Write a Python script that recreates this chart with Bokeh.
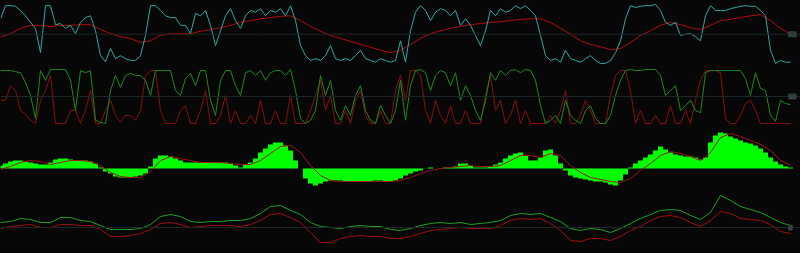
from bokeh.plotting import figure
from bokeh.layouts import column
from bokeh.models import Range1d, Span, Label
from bokeh.embed import file_html
from bokeh.resources import INLINE

# ---------------- data ----------------
# bar index (one bar every 5 px of the original chart)
bars = list(range(159))
smooth_bars = bars[::2]

# panel 1: fast oscillator (0-100) and its slow average
osc_fast = [76,98,98,97,90,81,70,60,19,98,
            98,66,68,60,65,51,70,78,81,56,
            14,4,26,9,14,9,6,6,14,48,
            98,98,90,81,78,78,65,65,51,85,
            81,90,65,31,56,81,93,73,60,81,
            90,87,93,81,90,87,93,81,98,73,
            31,14,6,9,6,14,31,9,6,9,
            6,14,23,9,6,3,9,6,3,6,
            39,3,56,87,98,90,73,87,93,90,
            81,90,65,76,65,48,31,56,90,81,
            93,87,90,98,93,98,90,81,48,14,
            6,9,3,23,9,6,3,9,14,6,
            1,1,6,19,39,76,98,95,97,98,
            98,100,90,70,65,70,48,50,51,46,
            39,81,98,90,90,90,93,95,97,98,
            97,97,90,81,23,1,6,3,3]
osc_slow = [45,51,60,65,65,63,65,65,66,66,
            58,51,46,43,36,39,48,51,51,51,
            55,58,61,65,70,73,76,78,80,81,
            73,63,55,48,43,38,33,28,23,19,
            23,33,43,51,56,60,63,66,68,70,
            71,73,75,76,76,70,60,50,39,33,
            29,24,26,36,48,56,65,70,66,61,
            58,65,73,75,78,81,83,73,60,50]

# panel 2: two 0-100 oscillators
osc2_green = [98,98,98,96,94,76,52,9,98,80,
              100,100,100,100,80,24,98,94,98,6,
              2,0,61,89,67,89,93,89,89,80,
              52,98,98,98,98,61,52,83,93,70,
              98,98,43,15,80,98,98,70,52,94,
              98,89,98,80,94,98,98,89,100,61,
              9,0,6,24,89,52,80,24,6,33,
              15,52,70,24,6,0,33,15,0,24,
              80,6,70,98,100,94,61,89,98,94,
              70,94,43,70,52,24,6,43,94,80,
              98,89,98,100,94,100,98,80,33,0,
              6,15,0,43,15,6,0,24,33,9,
              0,0,15,52,80,98,100,98,98,100,
              100,100,89,52,61,70,24,33,43,24,
              20,94,98,98,98,98,98,98,98,83,
              52,94,65,61,15,4,43,37,35]
osc2_red = [43,43,70,61,24,17,6,0,43,61,
            89,0,0,0,24,24,0,24,61,0,
            0,24,43,15,2,15,15,6,24,89,
            98,98,24,0,0,0,24,33,0,0,
            24,61,0,0,15,52,0,24,0,0,
            15,0,43,0,0,24,0,0,52,0,
            0,0,24,52,80,24,52,0,0,24,
            0,43,61,15,0,0,24,0,0,61,
            89,43,98,98,89,24,0,43,15,0,
            33,0,0,24,0,0,0,52,89,24,
            43,0,15,43,0,24,0,0,0,0,
            15,0,24,61,0,0,15,43,24,0,
            0,0,52,89,98,98,61,0,24,0,
            0,15,0,0,33,0,0,24,0,43,
            80,98,98,98,94,9,0,0,15,37,
            43,24,0,0,0,0,0,0,0]

# panel 3: histogram and signal line
hist = [3,5,7,8,8,7,6,5,4,4,
        6,9,10,10,9,8,8,8,7,5,
        1,-3,-5,-8,-9,-9,-9,-8,-7,-5,
        2,10,13,13,12,10,8,6,6,6,
        6,6,6,6,6,6,5,3,1,4,
        6,10,16,20,24,26,26,23,18,8,
        0,-10,-15,-17,-15,-13,-12,-12,-12,-13,
        -13,-13,-13,-13,-13,-12,-12,-13,-13,-12,
        -10,-7,-5,-3,-2,0,1,0,0,1,
        1,2,5,5,3,1,1,1,2,4,
        6,10,13,15,16,13,8,8,11,18,
        19,13,5,-2,-7,-9,-10,-11,-12,-13,
        -13,-14,-16,-17,-12,-6,1,5,8,11,
        14,18,22,19,16,14,13,12,12,11,
        9,11,26,33,36,35,32,30,28,26,
        25,23,20,16,11,7,4,2,1]
signal = [-1,2,6,8,7,4,6,8,8,7,
          3,-4,-8,-9,-9,-3,8,12,10,8,
          6,6,6,5,4,4,8,15,22,23,
          16,3,-7,-12,-13,-13,-13,-13,-13,-13,
          -12,-9,-5,-2,0,1,2,3,2,2,
          3,8,13,13,11,15,13,3,-4,-9,
          -11,-13,-14,-10,-2,5,13,17,15,12,
          8,16,31,35,32,28,24,18,8,3]

# panel 4: two smooth lines around zero
line4_green = [5,6,9,8,5,5,10,10,7,6,
               2,-2,-2,-2,-1,3,11,13,11,6,
               5,6,6,7,7,9,14,21,22,17,
               13,5,1,0,-1,1,2,1,1,-2,
               -3,-1,2,4,5,4,5,3,4,5,
               7,12,14,13,14,10,6,-1,-3,-1,
               -2,-5,-1,4,9,13,17,18,17,12,
               8,15,32,27,21,18,15,10,5,2]
line4_red = [-1,1,2,3,0,0,3,3,2,2,
             -2,-9,-9,-8,-6,-2,4,5,3,0,
             1,2,2,2,1,3,7,13,14,10,
             5,-5,-15,-15,-11,-9,-8,-9,-9,-11,
             -11,-9,-6,-3,-2,-1,0,-1,-1,-1,
             2,7,9,8,9,4,-3,-13,-14,-11,
             -11,-13,-9,-3,1,7,11,12,10,5,
             1,7,16,14,9,8,7,3,-4,-6]

ref_levels = [50, 50, 0]
ref_labels = ["50", "50", "0"]

# ---------------- styling ----------------
BG = "#070707"
REF = "#1d2727"
xr = Range1d(0, 160)


def panel(h, y0, y1):
    p = figure(width=800, height=h, x_range=xr, y_range=Range1d(y0, y1),
               output_backend="svg", toolbar_location=None, min_border=0)
    p.background_fill_color = BG
    p.border_fill_color = BG
    p.outline_line_color = None
    p.xaxis.visible = False
    p.yaxis.visible = False
    p.xgrid.visible = False
    p.ygrid.visible = False
    return p


def add_ref(p, level, text):
    p.add_layout(Span(location=level, dimension="width", line_color=REF, line_width=1))
    p.add_layout(Label(x=157.6, y=level, text=text, text_font_size="6px",
                       text_color="#4d5a5a", text_baseline="middle",
                       background_fill_color="#263030", border_line_color="#2e3a3a",
                       text_font="DejaVu Sans"))


p1 = panel(67, -5.88, 106.72)
add_ref(p1, ref_levels[0], ref_labels[0])
p1.line(smooth_bars, osc_slow, line_color="#b00d0d", line_width=1)
p1.line(bars, osc_fast, line_color="#2fa8a4", line_width=1)

p2 = panel(61, -9.26, 103.70)
add_ref(p2, ref_levels[1], ref_labels[1])
p2.line(bars, osc2_red, line_color="#8a0f0f", line_width=1)
p2.line(bars, osc2_green, line_color="#1d8a1d", line_width=1)

p3 = panel(63, -23, 40)
p3.vbar(x=bars, top=hist, bottom=0, width=1, fill_color="#00ff00", line_color=None)
p3.line(smooth_bars, signal, line_color="#a01414", line_width=1)

p4 = panel(62, -26, 36)
add_ref(p4, ref_levels[2], ref_labels[2])
p4.line(smooth_bars, line4_red, line_color="#a00d0d", line_width=1)
p4.line(smooth_bars, line4_green, line_color="#1fa01f", line_width=1)

layout = column(p1, p2, p3, p4, spacing=0)
layout.styles = {"background-color": BG}

open("out.html", "w").write(file_html(layout, INLINE))
